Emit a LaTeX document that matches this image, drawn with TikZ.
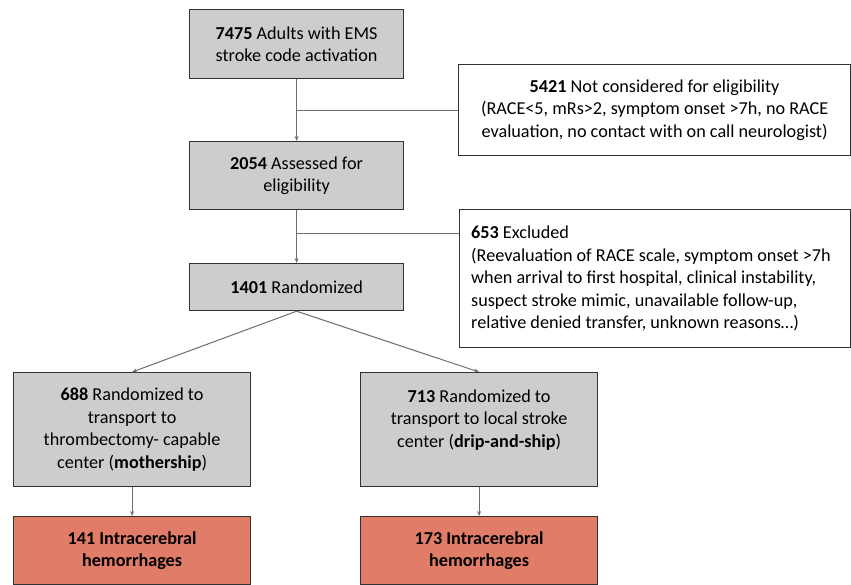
\documentclass[tikz,border=0pt]{standalone}
\usepackage{fontspec}
\setmainfont{Carlito}
\usetikzlibrary{arrows.meta,calc}
\definecolor{boxgray}{RGB}{205,205,205}
\definecolor{salmon}{RGB}{224,124,104}
\definecolor{edgecol}{RGB}{50,50,50}
\definecolor{conncol}{RGB}{110,110,110}
\begin{document}
\begin{tikzpicture}[x=1pt,y=-1pt,
  boxfont/.style={font=\fontsize{18.2}{22.6}\selectfont},
  box/.style={draw=edgecol, line width=1.2pt, anchor=north west, inner sep=0pt, align=center, boxfont},
  graybox/.style={box, fill=boxgray},
  redbox/.style={box, fill=salmon, font=\fontsize{18.2}{22.6}\selectfont\bfseries},
  whitebox/.style={box, fill=white},
  conn/.style={draw=conncol, line width=1pt},
  arr/.style={conn, -{Stealth[length=5pt,width=4pt]}}]
\useasboundingbox (0,0) rectangle (851,585);

\node[graybox, minimum width=214pt, minimum height=69pt] (n1) at (189,9)
  {\textbf{7475} Adults with EMS\\stroke code activation};
\node[graybox, minimum width=214pt, minimum height=68pt] (n2) at (189,141)
  {\textbf{2054} Assessed for\\eligibility};
\node[graybox, minimum width=214pt, minimum height=47pt] (n3) at (189,263)
  {\textbf{1401} Randomized};

\node[whitebox, minimum width=392pt, minimum height=91pt] (ex1) at (458,64)
  {\textbf{5421} Not considered for eligibility\\(RACE<5, mRs>2, symptom onset >7h, no RACE\\evaluation, no contact with on call neurologist)};
\node[whitebox, minimum width=391pt, minimum height=138pt] (ex2) at (459,209) {};
\node[boxfont, align=left, anchor=west, inner sep=0pt] (ex2t) at ([xshift=12pt]ex2.west)
  {\textbf{653} Excluded\\(Reevaluation of RACE scale, symptom onset >7h\\when arrival to first hospital, clinical instability,\\suspect stroke mimic, unavailable follow-up,\\relative denied transfer, unknown reasons\dots)};

\node[graybox, minimum width=237pt, minimum height=114pt] (m1) at (13,372)
  {\textbf{688} Randomized to\\transport to\\thrombectomy- capable\\center (\textbf{mothership})};
\node[graybox, minimum width=237pt, minimum height=114pt] (m2) at (360,372)
  {\textbf{713} Randomized to\\transport to local stroke\\center (\textbf{drip-and-ship})\\\mbox{}};

\node[redbox, minimum width=237pt, minimum height=68pt] (r1) at (13,516)
  {141 Intracerebral\\hemorrhages};
\node[redbox, minimum width=237pt, minimum height=68pt] (r2) at (360,516)
  {173 Intracerebral\\hemorrhages};

\draw[arr] (n1.south) -- (n2.north);
\coordinate (j1) at ($(n1.south)!0.5!(n2.north)$);
\draw[conn] (j1) -- (j1 -| ex1.west);
\draw[arr] (n2.south) -- (n3.north);
\coordinate (j2) at ($(n2.south)!0.45!(n3.north)$);
\draw[conn] (j2) -- (j2 -| ex2.west);
\draw[arr] (n3.south) -- (m1.north);
\draw[arr] (n3.south) -- (m2.north);
\draw[arr] (m1.south) -- (r1.north);
\draw[arr] (m2.south) -- (r2.north);
\end{tikzpicture}
\end{document}
